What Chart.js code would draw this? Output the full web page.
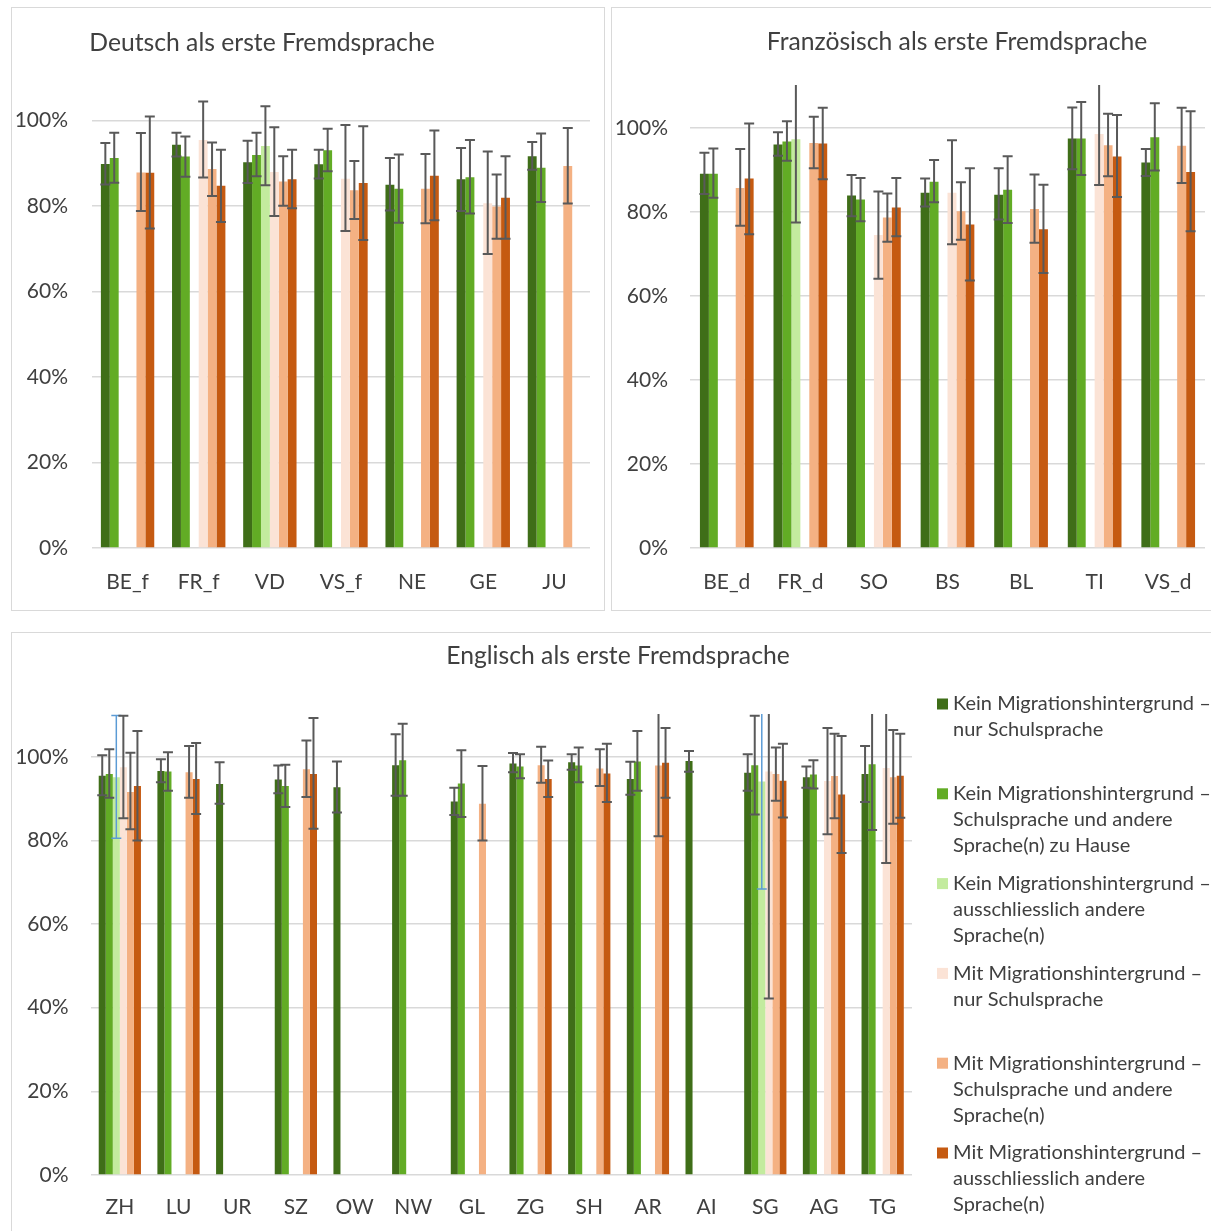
<!DOCTYPE html>
<html>
<head>
<meta charset="utf-8">
<script src="https://cdn.jsdelivr.net/npm/chart.js@4.4.1/dist/chart.umd.min.js"></script>
<style>
  html, body { margin: 0; padding: 0; background: #fff; overflow: hidden; }
  body { width: 1211px; height: 1231px; position: relative; }
  .panel { position: absolute; border: 1px solid #d9d9d9; }
  .panel canvas { display: block; }
</style>
</head>
<body>
<div class="panel" style="left:11px;top:7px;width:592px;height:602px"><canvas id="chartDe"></canvas></div>
<div class="panel" style="left:611px;top:7px;width:600px;height:602px"><canvas id="chartFr"></canvas></div>
<div class="panel" style="left:11px;top:632px;width:1200px;height:600px"><canvas id="chartEn"></canvas></div>
<script>
// series (same order in all three charts)
const seriesNames = [
  ['Kein Migrationshintergrund –', 'nur Schulsprache'],
  ['Kein Migrationshintergrund –', 'Schulsprache und andere', 'Sprache(n) zu Hause'],
  ['Kein Migrationshintergrund –', 'ausschliesslich andere', 'Sprache(n)'],
  ['Mit Migrationshintergrund –', 'nur Schulsprache'],
  ['Mit Migrationshintergrund –', 'Schulsprache und andere', 'Sprache(n)'],
  ['Mit Migrationshintergrund –', 'ausschliesslich andere', 'Sprache(n)']
];
const seriesColors = ['#3f6e18', '#62ac25', '#c3eb9e', '#fbe3d6', '#f4b183', '#c55a11'];
const yTicks = [0, 20, 40, 60, 80, 100];

// Deutsch als erste Fremdsprache
const deutschLabels = ['BE_f', 'FR_f', 'VD', 'VS_f', 'NE', 'GE', 'JU'];
const deutschValues = [
  [89.9, 94.4, 90.3, 89.8, 85.0, 86.3, 91.7],
  [91.3, 91.6, 92.0, 93.1, 84.1, 86.8, 89.0],
  [null, null, 94.1, null, null, null, null],
  [null, 95.5, 88.0, 86.4, null, 80.7, null],
  [87.9, 88.7, 85.8, 83.7, 84.1, 79.9, 89.4],
  [87.8, 84.8, 86.3, 85.4, 87.1, 82.0, null]
];
const deutschLow = [
  [85.1, 91.6, 85.4, 86.5, 79.0, 78.9, 88.5],
  [85.5, 86.9, 87.0, 88.2, 76.1, 78.3, 81.0],
  [null, null, 84.9, null, null, null, null],
  [null, 86.7, 77.7, 74.2, null, 68.8, null],
  [78.9, 82.4, 80.1, 77.0, 76.0, 72.4, 80.6],
  [74.8, 76.3, 79.5, 72.1, 76.7, 72.4, null]
];
const deutschHigh = [
  [94.8, 97.2, 95.3, 93.2, 91.3, 93.6, 95.0],
  [97.2, 96.3, 97.2, 98.1, 92.1, 95.5, 97.0],
  [null, null, 103.4, null, null, null, null],
  [null, 104.5, 98.5, 99.0, null, 92.8, null],
  [97.1, 94.9, 91.7, 90.6, 92.2, 87.4, 98.3],
  [101.0, 93.2, 93.2, 98.7, 97.7, 91.7, null]
];

// Französisch als erste Fremdsprache
const franzLabels = ['BE_d', 'FR_d', 'SO', 'BS', 'BL', 'TI', 'VS_d'];
const franzValues = [
  [89.1, 96.1, 83.9, 84.6, 84.1, 97.5, 91.8],
  [89.1, 96.8, 83.0, 87.2, 85.3, 97.5, 97.8],
  [null, 97.3, null, null, null, null, null],
  [null, null, 74.5, 84.6, null, 98.6, null],
  [85.7, 96.4, 78.7, 80.2, 80.7, 95.9, 95.8],
  [88.0, 96.3, 81.1, 77.0, 75.9, 93.2, 89.5]
];
const franzLow = [
  [84.3, 93.4, 79.0, 81.3, 78.2, 90.2, 88.6],
  [83.4, 92.2, 77.8, 82.3, 77.4, 88.8, 89.9],
  [null, 77.5, null, null, null, null, null],
  [null, null, 64.1, 72.3, null, 86.4, null],
  [76.7, 90.4, 72.9, 73.4, 72.7, 88.5, 86.9],
  [74.7, 87.8, 74.2, 63.7, 65.5, 83.6, 75.4]
];
const franzHigh = [
  [94.1, 99.0, 88.8, 88.0, 90.4, 104.9, 95.0],
  [95.1, 101.6, 88.1, 92.4, 93.3, 106.2, 105.9],
  [null, 118.0, null, null, null, null, null],
  [null, null, 84.9, 97.1, null, 115.0, null],
  [95.0, 102.7, 84.4, 87.1, 88.9, 103.4, 104.8],
  [101.1, 104.8, 88.1, 90.4, 86.5, 103.1, 104.0]
];

// Englisch als erste Fremdsprache
const englLabels = ['ZH', 'LU', 'UR', 'SZ', 'OW', 'NW', 'GL', 'ZG', 'SH', 'AR', 'AI', 'SG', 'AG', 'TG'];
const englValues = [
  [95.5, 96.6, 93.5, 94.6, 92.7, 98.0, 89.3, 98.4, 98.7, 94.7, 99.0, 96.2, 95.1, 95.9],
  [95.9, 96.5, null, 93.0, null, 99.2, 93.6, 97.7, 97.9, 98.9, null, 98.0, 95.8, 98.2],
  [95.1, null, null, null, null, null, null, null, null, null, null, 94.1, null, null],
  [97.5, null, null, null, null, null, null, null, null, null, null, 96.5, 94.2, 97.3],
  [91.6, 96.3, null, 97.0, null, null, 88.8, 98.0, 97.2, 97.9, null, 95.9, 95.4, 95.1],
  [93.0, 94.7, null, 95.9, null, null, null, 94.7, 96.0, 98.6, null, 94.3, 91.0, 95.5]
];
const englLow = [
  [90.8, 93.9, 88.8, 91.3, 86.7, 90.7, 86.1, 96.3, 96.9, 90.9, 96.4, 91.9, 92.6, 89.2],
  [90.2, 91.9, null, 88.0, null, 90.7, 85.6, 94.9, 93.9, 91.9, null, 86.2, 92.4, 82.5],
  [80.5, null, null, null, null, null, null, null, null, null, null, 68.4, null, null],
  [85.3, null, null, null, null, null, null, null, null, null, null, 42.2, 81.5, 74.6],
  [82.7, 90.2, null, 90.4, null, null, 80.0, 93.8, 93.0, 81.0, null, 89.5, 85.3, 84.0],
  [80.0, 86.3, null, 82.8, null, null, null, 90.4, 89.2, 90.2, null, 85.5, 77.0, 85.4]
];
const englHigh = [
  [100.4, 99.4, 98.7, 97.9, 98.9, 105.4, 92.6, 100.9, 100.6, 98.8, 101.4, 100.6, 97.7, 102.6],
  [101.8, 101.1, null, 98.1, null, 107.9, 101.6, 100.6, 102.2, 106.2, null, 109.8, 99.2, 115.0],
  [109.9, null, null, null, null, null, null, null, null, null, null, 115.0, null, null],
  [109.8, null, null, null, null, null, null, null, null, null, null, 115.0, 106.9, 115.0],
  [101.0, 102.6, null, 103.9, null, null, 97.8, 102.4, 101.8, 115.0, null, 102.2, 105.5, 106.4],
  [106.2, 103.3, null, 109.3, null, null, null, 99.1, 103.1, 106.9, null, 103.1, 105.0, 105.5]
];

const FONT = 'Lato, "Open Sans", sans-serif';
const TEXT = '#404040';

// error bars, clipped to the plot area
const errorBars = {
  id: 'errorBars',
  afterDatasetsDraw(chart) {
    const ctx = chart.ctx, area = chart.chartArea, ys = chart.scales.y;
    ctx.save();
    ctx.beginPath();
    ctx.rect(area.left, area.top - 1, area.right - area.left, area.bottom - area.top + 2);
    ctx.clip();
    chart.data.datasets.forEach((ds, i) => {
      const meta = chart.getDatasetMeta(i);
      meta.data.forEach((bar, j) => {
        const lo = ds.errLow[j], hi = ds.errHigh[j];
        if (ds.data[j] == null || lo == null || hi == null) return;
        const yl = ys.getPixelForValue(lo), yh = ys.getPixelForValue(hi);
        ctx.strokeStyle = ds.errColor;
        ctx.lineWidth = ds.errWidth;
        ctx.beginPath();
        ctx.moveTo(bar.x, yl); ctx.lineTo(bar.x, yh);
        ctx.moveTo(bar.x - 5, yl); ctx.lineTo(bar.x + 5, yl);
        if (hi <= ys.max) { ctx.moveTo(bar.x - 5, yh); ctx.lineTo(bar.x + 5, yh); }
        ctx.stroke();
      });
    });
    ctx.restore();
  }
};

// chart title placed like in the original (not centred on the canvas)
const panelTitle = {
  id: 'panelTitle',
  afterDraw(chart, args, opts) {
    const ctx = chart.ctx;
    ctx.save();
    ctx.font = '24.7px ' + FONT;
    ctx.fillStyle = TEXT;
    ctx.textAlign = 'center';
    ctx.textBaseline = 'middle';
    ctx.fillText(opts.text, opts.x, opts.y);
    ctx.restore();
  }
};

// legend with wrapped labels at the right of the English chart
const sideLegend = {
  id: 'sideLegend',
  afterDraw(chart, args, opts) {
    if (!opts.show) return;
    const ctx = chart.ctx;
    ctx.save();
    ctx.font = '20px ' + FONT;
    ctx.textBaseline = 'middle';
    seriesNames.forEach((lines, i) => {
      const y0 = opts.y + i * opts.step;
      ctx.fillStyle = seriesColors[i];
      ctx.fillRect(opts.x, y0 - 5.5, 11, 11);
      ctx.fillStyle = TEXT;
      lines.forEach((t, k) => ctx.fillText(t, opts.x + 16, y0 + k * 26));
    });
    ctx.restore();
  }
};

function makeChart(id, labels, values, low, high, cfg) {
  const datasets = values.map((v, i) => ({
    label: seriesNames[i].join(' '),
    data: v,
    errLow: low[i],
    errHigh: high[i],
    errColor: (cfg.blueLight && i === 2) ? '#5b9bd5' : '#595959',
    errWidth: (cfg.blueLight && i === 2) ? 1.5 : 2,
    backgroundColor: seriesColors[i],
    borderWidth: 0,
    categoryPercentage: cfg.catPct,
    barPercentage: 1
  }));
  return new Chart(document.getElementById(id), {
    type: 'bar',
    data: { labels: labels, datasets: datasets },
    options: {
      responsive: true,
      maintainAspectRatio: false,
      animation: false,
      layout: { padding: { left: 0, top: cfg.top, right: cfg.right, bottom: 0 } },
      plugins: {
        legend: { display: false },
        tooltip: { enabled: false },
        panelTitle: { text: cfg.title, x: cfg.titleX, y: cfg.titleY },
        sideLegend: { show: !!cfg.legend, x: 925, y: 71, step: 89.8 }
      },
      scales: {
        x: {
          grid: { display: false },
          border: { display: false },
          ticks: { font: { family: FONT, size: 21 }, color: TEXT, padding: cfg.xPad, maxRotation: 0 },
          afterFit(s) { s.height = cfg.xHeight; }
        },
        y: {
          min: 0,
          max: 110,
          afterBuildTicks(s) { s.ticks = yTicks.map(v => ({ value: v })); },
          afterFit(s) { s.width = cfg.left; },
          grid: { color: '#d9d9d9', lineWidth: 1.5, drawTicks: false },
          border: { display: false },
          ticks: {
            font: { family: FONT, size: 21 }, color: TEXT, padding: cfg.yPad,
            callback: v => v + '%'
          }
        }
      }
    },
    plugins: [errorBars, panelTitle, sideLegend]
  });
}

makeChart('chartDe', deutschLabels, deutschValues, deutschLow, deutschHigh, {
  title: 'Deutsch als erste Fremdsprache', titleX: 250, titleY: 35,
  left: 80, right: 14, top: 70, xHeight: 62, xPad: 14, yPad: 24, catPct: 0.75
});
makeChart('chartFr', franzLabels, franzValues, franzLow, franzHigh, {
  title: 'Französisch als erste Fremdsprache', titleX: 345, titleY: 34,
  left: 78, right: 7, top: 78, xHeight: 62, xPad: 14, yPad: 22, catPct: 0.73
});
makeChart('chartEn', englLabels, englValues, englLow, englHigh, {
  title: 'Englisch als erste Fremdsprache', titleX: 606, titleY: 23,
  left: 78.5, right: 300, top: 82, xHeight: 58, xPad: 12, yPad: 22, catPct: 0.72,
  legend: true, blueLight: true
});
</script>
</body>
</html>
